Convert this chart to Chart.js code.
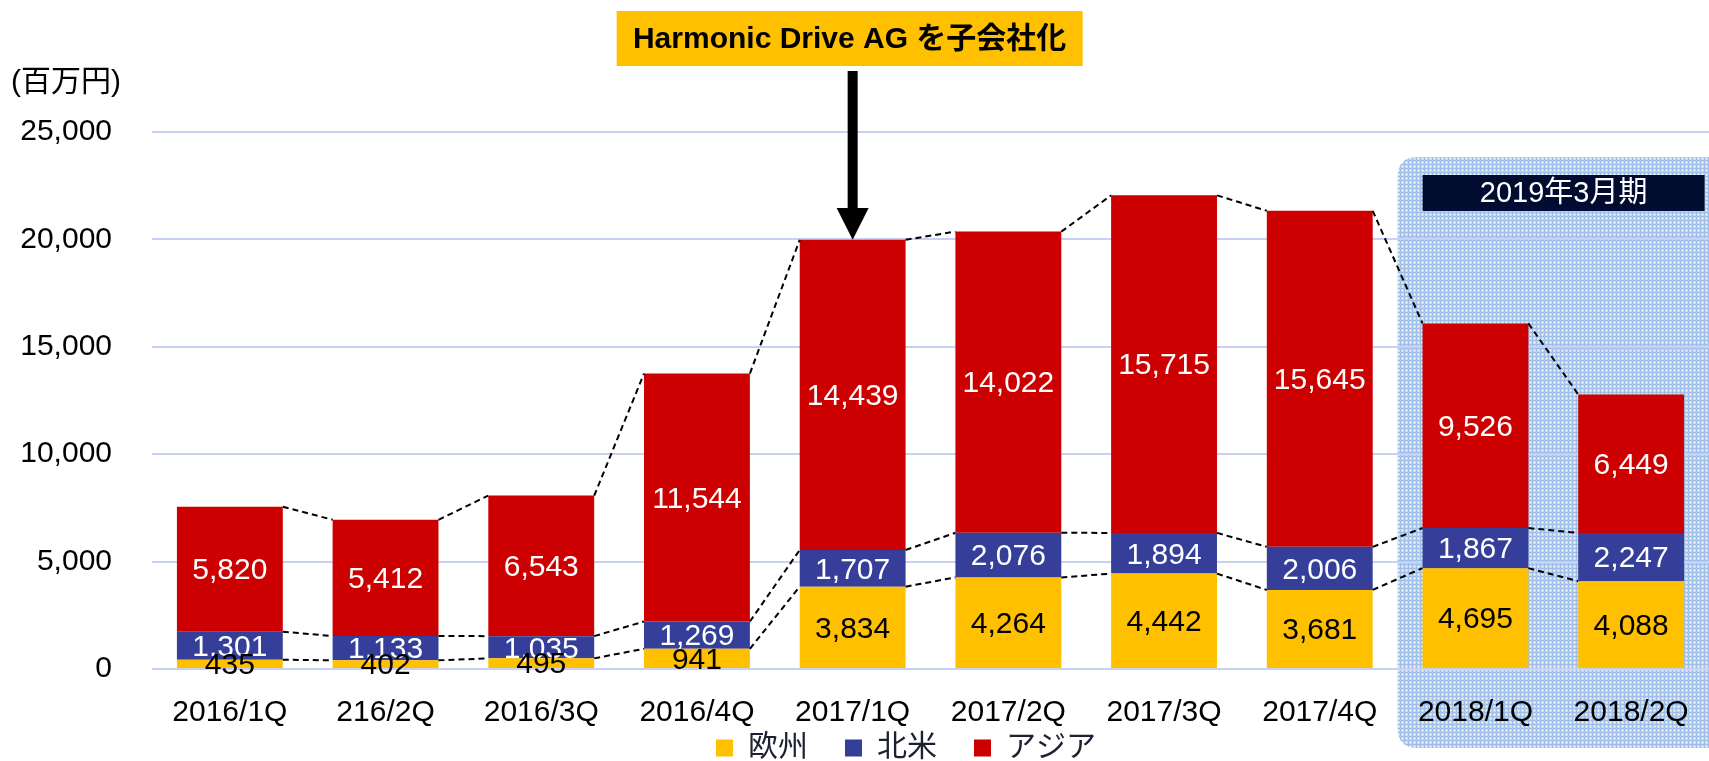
<!DOCTYPE html>
<html>
<head>
<meta charset="utf-8">
<script src="https://cdn.jsdelivr.net/npm/chart.js@4"></script>
<style>
  html, body { margin: 0; padding: 0; background: #fff; }
  #wrap { width: 1709px; height: 761px; position: relative; }
</style>
</head>
<body>
<div id="wrap"><canvas id="chart"></canvas></div>
<script>
// 四半期ごとの地域別売上 (百万円)
const quarters = ["2016/1Q", "216/2Q", "2016/3Q", "2016/4Q", "2017/1Q", "2017/2Q", "2017/3Q", "2017/4Q", "2018/1Q", "2018/2Q"];
const europe = [435, 402, 495, 941, 3834, 4264, 4442, 3681, 4695, 4088];
const northAmerica = [1301, 1133, 1035, 1269, 1707, 2076, 1894, 2006, 1867, 2247];
const asia = [5820, 5412, 6543, 11544, 14439, 14022, 15715, 15645, 9526, 6449];
const yTicks = [0, 5000, 10000, 15000, 20000, 25000];

const FONT = "'Liberation Sans', Arial, 'Noto Sans CJK JP', sans-serif";
const PAD_BOTTOM = -12;
const AREA_BOTTOM = 669;

// 背景のチェック柄
function makePattern(ctx) {
    const c = document.createElement("canvas");
    c.width = 4; c.height = 4;
    const p = c.getContext("2d");
    p.fillStyle = "#c2d8f3";
    p.fillRect(0, 0, 4, 4);
    p.fillStyle = "#9dbfe9";
    p.fillRect(0, 0, 4, 1);
    p.fillRect(0, 0, 1, 4);
    p.fillStyle = "#ffffff";
    p.fillRect(2, 2, 1, 1);
    return ctx.createPattern(c, "repeat");
}

function roundRect(ctx, x, y, w, h, r) {
    ctx.beginPath();
    ctx.moveTo(x + r, y);
    ctx.lineTo(x + w - r, y);
    ctx.quadraticCurveTo(x + w, y, x + w, y + r);
    ctx.lineTo(x + w, y + h - r);
    ctx.quadraticCurveTo(x + w, y + h, x + w - r, y + h);
    ctx.lineTo(x + r, y + h);
    ctx.quadraticCurveTo(x, y + h, x, y + h - r);
    ctx.lineTo(x, y + r);
    ctx.quadraticCurveTo(x, y, x + r, y);
    ctx.closePath();
}

const decorations = {
    id: "decorations",
    afterLayout(chart) {
        // 軸ラベルが凡例の帯と重なっても切れないように
        chart.scales.x.bottom = chart.height;
        chart.legend.left = 103;
    },
    beforeDraw(chart) {
        const { ctx, scales: { x } } = chart;
        ctx.save();
        // 2019年3月期 の背景パネル
        const left = (x.getPixelForValue(7) + x.getPixelForValue(8)) / 2;
        ctx.fillStyle = makePattern(ctx);
        roundRect(ctx, left, 157, chart.width - left + 30, 591, 20);
        ctx.fill();
        ctx.fillStyle = "#020b30";
        ctx.fillRect(left + 25, 175, 282, 36);
        ctx.fillStyle = "#ffffff";
        ctx.font = "29px " + FONT;
        ctx.textAlign = "center";
        ctx.textBaseline = "middle";
        ctx.fillText("2019年3月期", left + 25 + 141, 194);
        // 単位
        ctx.fillStyle = "#000";
        ctx.textAlign = "left";
        ctx.font = "30px " + FONT;
        ctx.fillText("(百万円)", 11, 83);
        ctx.restore();
    },
    afterDatasetsDraw(chart) {
        const { ctx } = chart;
        const metas = [0, 1, 2].map(i => chart.getDatasetMeta(i));
        ctx.save();
        // 破線でつなぐ
        ctx.strokeStyle = "#000";
        ctx.lineWidth = 2;
        ctx.setLineDash([6, 4]);
        metas.forEach(meta => {
            for (let i = 0; i < meta.data.length - 1; i++) {
                const a = meta.data[i], b = meta.data[i + 1];
                ctx.beginPath();
                ctx.moveTo(a.x + a.width / 2, a.y);
                ctx.lineTo(b.x - b.width / 2, b.y);
                ctx.stroke();
            }
        });
        ctx.setLineDash([]);
        // 数値ラベル
        ctx.font = "30px " + FONT;
        ctx.textAlign = "center";
        ctx.textBaseline = "middle";
        [2, 1, 0].forEach(d => {
            const ds = chart.data.datasets[d];
            ctx.fillStyle = d === 0 ? "#000" : "#fff";
            metas[d].data.forEach((el, i) => {
                ctx.fillText(ds.data[i].toLocaleString("en-US"), el.x, (el.y + el.base) / 2 + 2);
            });
        });
        // 注記と矢印
        const target = metas[2].data[4];
        ctx.fillStyle = "#ffc000";
        ctx.fillRect(target.x - 236, 11, 466, 55);
        ctx.fillStyle = "#000";
        ctx.font = "bold 30px " + FONT;
        ctx.fillText("Harmonic Drive AG を子会社化", target.x - 3, 40);
        ctx.fillRect(target.x - 5, 71, 10, 138);
        ctx.beginPath();
        ctx.moveTo(target.x - 16, 208);
        ctx.lineTo(target.x + 16, 208);
        ctx.lineTo(target.x, target.y);
        ctx.closePath();
        ctx.fill();
        ctx.restore();
    }
};

new Chart(document.getElementById("chart"), {
    type: "bar",
    data: {
        labels: quarters,
        datasets: [
            { label: "欧州", data: europe, backgroundColor: "#ffc000", borderWidth: 0 },
            { label: "北米", data: northAmerica, backgroundColor: "#353f9a", borderWidth: 0 },
            { label: "アジア", data: asia, backgroundColor: "#cc0000", borderWidth: 0 }
        ]
    },
    options: {
        responsive: true,
        maintainAspectRatio: false,
        animation: false,
        layout: { padding: { top: 132, left: 0, right: 0, bottom: PAD_BOTTOM } },
        datasets: { bar: { categoryPercentage: 1, barPercentage: 0.68 } },
        plugins: {
            tooltip: { enabled: false },
            legend: {
                position: "bottom",
                labels: {
                    boxWidth: 17,
                    boxHeight: 17,
                    padding: 37,
                    color: "#1c2030",
                    font: { family: FONT, size: 30 }
                }
            }
        },
        scales: {
            x: {
                stacked: true,
                grid: { display: false },
                border: { display: false },
                ticks: { color: "#000", padding: 18, maxRotation: 0, autoSkip: false, font: { family: FONT, size: 30 } },
                afterFit(s) { s.height = s.chart.height - PAD_BOTTOM - s.chart.legend.height - AREA_BOTTOM; }
            },
            y: {
                stacked: true,
                min: 0,
                max: 25000,
                afterBuildTicks(s) { s.ticks = yTicks.map(v => ({ value: v })); },
                grid: { color: "#c8d0f4", lineWidth: 2, drawTicks: false },
                border: { display: false },
                ticks: {
                    color: "#000",
                    padding: 40,
                    font: { family: FONT, size: 30 },
                    callback: v => v.toLocaleString("en-US")
                },
                afterFit(s) { s.width = 152; }
            }
        }
    },
    plugins: [decorations]
});
</script>
</body>
</html>
